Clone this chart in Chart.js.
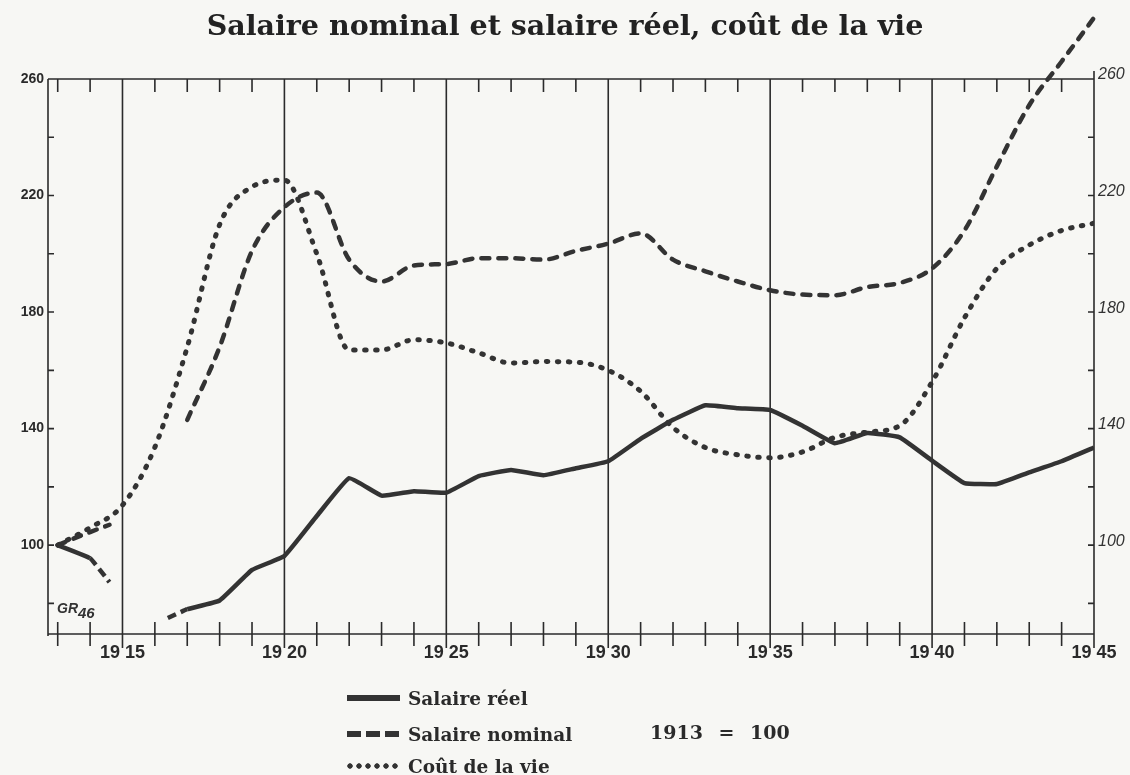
<!DOCTYPE html>
<html lang="fr">
<head>
<meta charset="utf-8">
<title>Salaire nominal et salaire réel, coût de la vie</title>
<script src="https://cdn.jsdelivr.net/npm/chart.js@4.4.1/dist/chart.umd.min.js"></script>
<style>
  html, body { margin: 0; padding: 0; background: #f7f7f4; }
  #wrap { position: relative; width: 1130px; height: 775px; overflow: hidden; }
  #chart { position: absolute; left: 0; top: 0; }
  .row { position: absolute; left: 347px; height: 22px; display: flex; align-items: center;
         font-family: 'DejaVu Serif', serif; font-weight: bold; font-size: 18.5px; color: #2a2a2a; }
  .swatch { width: 53px; height: 6px; margin-right: 8px; }
  .solid { background: #333; }
  .dashed { background: repeating-linear-gradient(90deg, #333 0 14px, transparent 14px 19px); }
  .dotted { background: radial-gradient(circle at 3px 3px, #333 2.4px, transparent 3px) repeat-x;
            background-size: 9px 6px; }
  #base { position: absolute; left: 650px; top: 721px; font-family: 'DejaVu Serif', serif;
          font-weight: bold; font-size: 19px; color: #2a2a2a; word-spacing: 9px; }
  #sig { position: absolute; left: 57px; top: 600px; font-family: 'Liberation Sans', sans-serif;
         font-style: italic; font-weight: bold; font-size: 14px; color: #333; }
  #sig sub { font-size: 15px; vertical-align: -5px; }
</style>
</head>
<body>
<div id="wrap">
  <canvas id="chart" width="1130" height="775"></canvas>
  <div id="sig">GR<sub>46</sub></div>
  <div class="row" style="top:687px"><span class="swatch solid"></span>Salaire réel</div>
  <div class="row" style="top:723px"><span class="swatch dashed"></span>Salaire nominal</div>
  <div class="row" style="top:755px"><span class="swatch dotted"></span>Coût de la vie</div>
  <div id="base">1913 = 100</div>
</div>
<script>
const INK = '#2b2b2b';

// years are index 1913 = 100; null marks the war gap
const reelYears = [1913, 1914, 1914.6, 1915.5, 1916.4, 1917, 1918, 1919, 1920, 1921, 1922, 1923, 1924,
  1925, 1926, 1927, 1928, 1929, 1930, 1931, 1932, 1933, 1934, 1935, 1936, 1937, 1938, 1939, 1940,
  1941, 1942, 1943, 1944, 1945];
const salaireReel = [100, 95.5, 87.3, null, 75, 78, 81, 91.5, 96.3, 110, 123, 117, 118.5,
  118, 123.7, 125.8, 124, 126.4, 128.8, 136.5, 143, 148, 147, 146.4, 141, 135, 138.5, 137, 129,
  121.3, 121, 125, 128.8, 133.5];

const nominalYears = [1913, 1914, 1914.6, 1916, 1917, 1918, 1919, 1920, 1921, 1922, 1923, 1924,
  1925, 1926, 1927, 1928, 1929, 1930, 1931, 1932, 1933, 1934, 1935, 1936, 1937, 1938, 1939, 1940,
  1941, 1942, 1943, 1944, 1945];
const salaireNominal = [100, 104.5, 107, null, 143, 168, 201, 216, 221, 198, 190.5, 196,
  196.5, 198.5, 198.5, 198, 201, 203.5, 207, 198, 194, 190.5, 187.5, 186, 185.8, 188.6, 190, 195,
  208, 230, 251, 266, 281];

const vieYears = [1913, 1914, 1915, 1916, 1917, 1918, 1919, 1920, 1921, 1922, 1923, 1924,
  1925, 1926, 1927, 1928, 1929, 1930, 1931, 1932, 1933, 1934, 1935, 1936, 1937, 1938, 1939, 1940,
  1941, 1942, 1943, 1944, 1945];
const coutVie = [100, 106, 113.7, 133.6, 168, 210, 223, 225.3, 200, 167, 167, 170.5,
  169.4, 166, 162.5, 163, 162.8, 160, 152.8, 140.4, 133.5, 131, 130, 132, 137, 138.8, 141, 156,
  178, 195, 203, 208, 210.5];

const yLabels = [100, 140, 180, 220, 260];
const yMinor = [80, 100, 120, 140, 160, 180, 200, 220, 240];
const yearTicks = [1913, 1914, 1915, 1916, 1917, 1918, 1919, 1920, 1921, 1922, 1923, 1924, 1925,
  1926, 1927, 1928, 1929, 1930, 1931, 1932, 1933, 1934, 1935, 1936, 1937, 1938, 1939, 1940, 1941,
  1942, 1943, 1944, 1945];
const yearLabels = [1915, 1920, 1925, 1930, 1935, 1940, 1945];

const zip = (xs, ys) => xs.map((x, i) => ({ x, y: ys[i] }));

// frame, year ticks and the 5-year lines, placed through the scales
const framePlugin = {
  id: 'frame',
  beforeDatasetsDraw(chart) {
    const { ctx, chartArea: a, scales } = chart;
    const x = scales.x, y = scales.y;
    ctx.save();
    ctx.strokeStyle = INK;
    ctx.lineWidth = 1.6;
    ctx.beginPath();
    ctx.moveTo(a.left, a.top);
    ctx.lineTo(a.right, a.top);
    ctx.moveTo(a.left, a.top);
    ctx.lineTo(a.left, a.bottom + 2);
    ctx.moveTo(a.right, a.top - 8);
    ctx.lineTo(a.right, a.bottom + 14);
    ctx.moveTo(a.left, a.bottom);
    ctx.lineTo(a.right, a.bottom);
    yearTicks.forEach((yr) => {
      const px = x.getPixelForValue(yr);
      if (yr === 1945) return;
      if (yearLabels.includes(yr)) {
        ctx.moveTo(px, a.top);
        ctx.lineTo(px, a.bottom + 14);
      } else {
        ctx.moveTo(px, a.top);
        ctx.lineTo(px, a.top + 13);
        ctx.moveTo(px, a.bottom - 12);
        ctx.lineTo(px, a.bottom + 12);
      }
    });
    yMinor.forEach((v) => {
      const py = y.getPixelForValue(v);
      ctx.moveTo(a.left, py);
      ctx.lineTo(a.left + 6, py);
      ctx.moveTo(a.right - 6, py);
      ctx.lineTo(a.right, py);
    });
    ctx.stroke();
    ctx.restore();
  },
};

const yCommon = {
  min: 69.5,
  max: 260,
  grid: { display: false, drawTicks: false },
  border: { display: false },
  afterBuildTicks: (axis) => { axis.ticks = yLabels.map((v) => ({ value: v })); },
};

new Chart(document.getElementById('chart'), {
  type: 'line',
  data: {
    datasets: [
      {
        label: 'Salaire réel',
        data: zip(reelYears, salaireReel),
        borderColor: '#333',
        borderWidth: 4.5,
        tension: 0.1,
        pointRadius: 0,
        segment: {
          borderDash: (ctx) => (ctx.p0.parsed.x >= 1914 && ctx.p1.parsed.x <= 1917 ? [9, 5] : undefined),
        },
      },
      {
        label: 'Salaire nominal',
        data: zip(nominalYears, salaireNominal),
        borderColor: '#333',
        borderWidth: 4.5,
        borderDash: [8, 9],
        borderCapStyle: 'round',
        cubicInterpolationMode: 'monotone',
        pointRadius: 0,
        clip: false,
      },
      {
        label: 'Coût de la vie',
        data: zip(vieYears, coutVie),
        borderColor: '#333',
        borderWidth: 5,
        borderDash: [1.5, 9.5],
        borderCapStyle: 'round',
        cubicInterpolationMode: 'monotone',
        pointRadius: 0,
      },
    ],
  },
  options: {
    responsive: false,
    animation: false,
    events: [],
    layout: { padding: { top: 0, left: 0, right: 0, bottom: 101 } },
    plugins: {
      legend: { display: false },
      tooltip: { enabled: false },
      title: {
        display: true,
        text: 'Salaire nominal et salaire réel, coût de la vie',
        color: '#222',
        font: { family: 'DejaVu Serif', weight: 'bold', size: 28.5 },
        padding: { top: 10, bottom: 34.8 },
      },
    },
    scales: {
      x: {
        type: 'linear',
        min: 1912.7,
        max: 1945,
        grid: { display: false, drawTicks: false },
        border: { display: false },
        afterBuildTicks: (axis) => { axis.ticks = yearLabels.map((v) => ({ value: v })); },
        afterFit: (scale) => { scale.height = 40; },
        ticks: {
          padding: 8,
          color: '#2a2a2a',
          font: { family: 'Liberation Sans', weight: 'bold', size: 18 },
          callback: (v) => String(v).slice(0, 2) + ' ' + String(v).slice(2),
        },
      },
      y: {
        ...yCommon,
        position: 'left',
        afterFit: (scale) => { scale.width = 48; },
        ticks: {
          padding: 4,
          color: '#2a2a2a',
          font: { family: 'Liberation Sans', weight: 'bold', size: 14 },
        },
      },
      y2: {
        ...yCommon,
        position: 'right',
        afterFit: (scale) => { scale.width = 36; },
        ticks: {
          padding: 4,
          labelOffset: -4,
          color: '#333',
          font: { family: 'Liberation Sans', style: 'italic', size: 16 },
        },
      },
    },
  },
  plugins: [framePlugin],
});
</script>
</body>
</html>
